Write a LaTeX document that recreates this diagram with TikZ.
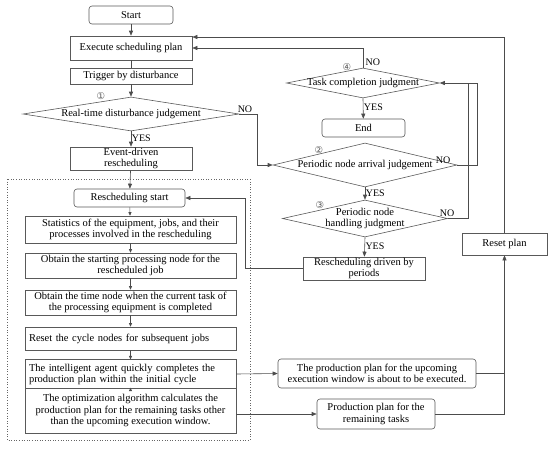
\documentclass[tikz,border=0pt]{standalone}
\usepackage{fontspec}
\setmainfont{Liberation Serif}
\newfontfamily\circfont{DejaVu Sans}
\usetikzlibrary{shapes.geometric,arrows.meta}
\begin{document}
\begin{tikzpicture}[x=1pt,y=-1pt,
  every node/.style={font=\fontsize{10.5}{11.5}\selectfont},
  box/.style={draw=black!65,line width=0.6pt,minimum width=#1,inner sep=1pt,align=center},
  rbox/.style={box=#1,rounded corners=3pt},
  dia/.style={draw=black!65,line width=0.6pt,diamond,inner sep=0pt},
  ln/.style={draw=black!70,line width=0.6pt},
  arr/.style={ln,-{Triangle[length=5pt,width=4pt]}},
  sarr/.style={ln,-{Triangle[length=3.5pt,width=3pt]}},
  lab/.style={inner sep=0.5pt,font=\fontsize{10}{11}\selectfont},
  num/.style={inner sep=0pt,text=black!65,font=\circfont\fontsize{9.5}{9.5}\selectfont}]
\useasboundingbox (0,0) rectangle (550,451);
% left column
\node[rbox=84,minimum height=18] (start) at (131,15) {Start};
\node[box=122,minimum height=24] (exec) at (131,48) {Execute scheduling plan};
\node[box=122,minimum height=16] (trig) at (131,76) {Trigger by disturbance};
\node[dia,minimum width=216,minimum height=34] (d1) at (131,114) {};
\node at (d1) {Real-time disturbance judgement};
\node[num] (n1) at (101,96) {①};
\node[box=122,minimum height=23,font=\fontsize{10.5}{11}\selectfont] (ev) at (131,158.5) {Event-driven\\rescheduling};
% dotted frame
\draw[black!60,dotted,line width=0.6pt] (7,179) rectangle (250,440);
\node[rbox=111,minimum height=18] (rs) at (129.5,198) {Rescheduling start};
\node[box=211,minimum height=27,font=\fontsize{10.5}{11}\selectfont] (st) at (130.5,229.5) {Statistics of the equipment, jobs, and their\\processes involved in the rescheduling};
\node[box=211,minimum height=25,font=\fontsize{10.5}{11}\selectfont] (os) at (130.5,265.5) {Obtain the starting processing node for the\\rescheduled job};
\node[box=211,minimum height=25,font=\fontsize{10.5}{11}\selectfont] (ot) at (130.5,302.5) {Obtain the time node when the current task of\\the processing equipment is completed};
\node[box=211,minimum height=23,align=left,text width=203pt,inner sep=4pt] (rc) at (130.5,338.5) {Reset the cycle nodes for subsequent jobs};
\node[box=211,minimum height=24,align=left,text width=203pt,inner sep=4pt,font=\fontsize{10.5}{11}\selectfont] (ia) at (130.5,374) {The intelligent agent quickly completes the\\production plan within the initial cycle};
\node[box=211,minimum height=45,font=\fontsize{10.5}{11.5}\selectfont] (oa) at (130.5,410.5) {The optimization algorithm calculates the\\production plan for the remaining tasks other\\than the upcoming execution window.};
% right column
\node[dia,minimum width=153,minimum height=30] (d4) at (363,83) {};
\node at (d4) {Task completion judgment};
\node[num] (n4) at (347,67) {④};
\node[rbox=83,minimum height=18] (endn) at (363.5,128) {End};
\node[dia,minimum width=184,minimum height=44] (d2) at (365,165) {};
\node at (d2) {Periodic node arrival judgement};
\node[num] (n2) at (319,150) {②};
\node[dia,minimum width=165,minimum height=37] (d3) at (365,218.5) {};
\node[align=center,font=\fontsize{10.5}{11.5}\selectfont] at (d3) {Periodic node\\handling judgment};
\node[num] (n3) at (320,205) {③};
\node[box=122,minimum height=23,font=\fontsize{10.5}{11}\selectfont] (rdp) at (364,268.5) {Rescheduling driven by\\periods};
\node[box=85,minimum height=22] (reset) at (504.5,244) {Reset plan};
\node[rbox=198,minimum height=29,font=\fontsize{10.5}{11.5}\selectfont] (up) at (377,373.5) {The production plan for the upcoming\\execution window is about to be executed.};
\node[rbox=118,minimum height=30,font=\fontsize{10.5}{11.5}\selectfont] (pr) at (376,414) {Production plan for the\\remaining tasks};
% coordinates
\coordinate (c1) at (257,114);
\coordinate (c2) at (477,165);
\coordinate (c3) at (477,83);
\coordinate (c4) at (468,218.5);
\coordinate (c5) at (468,83);
\coordinate (c6) at (245,268.5);
\coordinate (c7) at (245,198);
\coordinate (c8) at (363,48);
\coordinate (c9) at (504.5,37);
\coordinate (c10) at (504.5,373.5);
\coordinate (c11) at (504.5,414);
% connectors
\draw[arr] (start) -- (exec);
\draw[ln] (exec) -- (trig);
\draw[arr] (trig) -- (d1.north);
\draw[arr] (d1.south) -- node[lab,right,pos=0.45] {YES} (ev);
\draw[arr] (d1.east) -- (c1) |- (d2.west);
\node[lab,anchor=south] at (245,113) {NO};
\draw[arr] (ev) -- (rs);
\draw[arr] (d2.south) -- node[lab,right,pos=0.5] {YES} (d3.north);
\draw[ln] (d2.east) -- (c2) -- (c3);
\node[lab,anchor=south] at (443,164) {NO};
\draw[ln] (d3.east) -- (c4) -- (c5);
\draw[arr] (c3) -- (d4.east);
\node[lab,anchor=south] at (447,217) {NO};
\draw[arr] (d3.south) -- node[lab,right,pos=0.45] {YES} (rdp);
\draw[arr] (rdp.west) -- (c6) -- (c7) -- (rs.east);
\draw[arr] (d4.south) -- node[lab,right,pos=0.45] {YES} (endn);
\draw[arr] (d4.north) -- (c8) -- (exec.east);
\node[lab,anchor=west] at (365,62) {NO};
\draw[arr] (reset.north) -- (c9) -- (exec.east |- c9);
\draw[sarr] (rs) -- (st);
\draw[sarr] (st) -- (os);
\draw[sarr] (os) -- (ot);
\draw[sarr] (ot) -- (rc);
\draw[sarr] (rc) -- (ia);
\draw[sarr] (ia) -- (oa);
\draw[arr] (ia.east) -- (up.west);
\draw[arr] (oa.east |- pr.west) -- (pr.west);
\draw[arr] (up.east) -- (c10) -- (reset.south);
\draw[ln] (pr.east) -- (c11) -- (c10);
\end{tikzpicture}
\end{document}
